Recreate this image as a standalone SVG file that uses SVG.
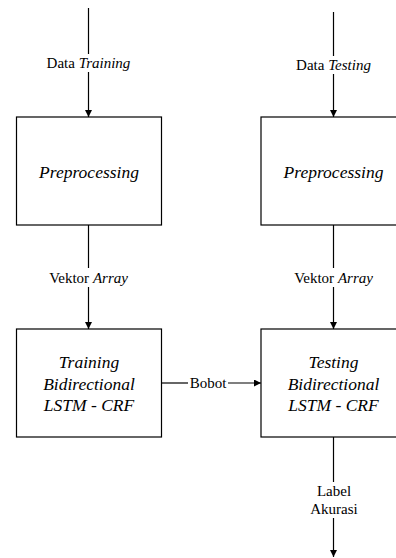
<svg xmlns="http://www.w3.org/2000/svg" width="396" height="558" viewBox="0 0 396 558">
<style>
.box{fill:#fff;stroke:#000;stroke-width:1.2}
.ln{stroke:#000;stroke-width:1.2;fill:none}
text{font-family:'Liberation Serif','Times New Roman',Tinos,'DejaVu Serif',serif;fill:#000;text-anchor:middle}
.lbl{font-size:15px}
.bt{font-size:17.5px;font-style:italic}
.i{font-style:italic}
</style>
<defs>
<marker id="ah" viewBox="0 0 10 10" refX="10" refY="5" markerWidth="7" markerHeight="7" markerUnits="userSpaceOnUse" orient="auto">
<path d="M0,0 L10,5 L0,10 z" fill="#000"/>
</marker>
</defs>
<g id="connectors">
<line class="ln" x1="88.5" y1="8" x2="88.5" y2="54"/>
<line class="ln" x1="88.5" y1="72" x2="88.5" y2="117" marker-end="url(#ah)"/>
<line class="ln" x1="333.5" y1="12" x2="333.5" y2="56"/>
<line class="ln" x1="333.5" y1="74" x2="333.5" y2="117" marker-end="url(#ah)"/>
<line class="ln" x1="88.5" y1="225" x2="88.5" y2="268"/>
<line class="ln" x1="88.5" y1="287" x2="88.5" y2="329" marker-end="url(#ah)"/>
<line class="ln" x1="333.5" y1="225" x2="333.5" y2="268"/>
<line class="ln" x1="333.5" y1="287" x2="333.5" y2="329" marker-end="url(#ah)"/>
<line class="ln" x1="161.5" y1="383" x2="188" y2="383"/>
<line class="ln" x1="228" y1="383" x2="261" y2="383" marker-end="url(#ah)"/>
<line class="ln" x1="333.5" y1="437" x2="333.5" y2="482"/>
<line class="ln" x1="333.5" y1="518" x2="333.5" y2="557" marker-end="url(#ah)"/>
<text class="lbl" x="88.5" y="68">Data <tspan class="i">Training</tspan></text>
<text class="lbl" x="333.5" y="70">Data <tspan class="i">Testing</tspan></text>
<text class="lbl" x="88.5" y="283">Vektor <tspan class="i">Array</tspan></text>
<text class="lbl" x="333.5" y="283">Vektor <tspan class="i">Array</tspan></text>
<text class="lbl" x="208" y="388">Bobot</text>
<text class="lbl" x="334" y="496">Label</text>
<text class="lbl" x="334" y="514">Akurasi</text>
</g>
<g id="pre-train">
<rect class="box" x="16.5" y="117" width="145" height="108"/>
<text class="bt" x="89" y="178">Preprocessing</text>
</g>
<g id="pre-test">
<rect class="box" x="261" y="117" width="145" height="108"/>
<text class="bt" x="333.5" y="178">Preprocessing</text>
</g>
<g id="train">
<rect class="box" x="16.5" y="329" width="145" height="108"/>
<text class="bt" x="89" y="368">Training</text>
<text class="bt" x="89" y="389.5">Bidirectional</text>
<text class="bt" x="89" y="411">LSTM - CRF</text>
</g>
<g id="test">
<rect class="box" x="261" y="329" width="145" height="108"/>
<text class="bt" x="333.5" y="368">Testing</text>
<text class="bt" x="333.5" y="389.5">Bidirectional</text>
<text class="bt" x="333.5" y="411">LSTM - CRF</text>
</g>
</svg>
